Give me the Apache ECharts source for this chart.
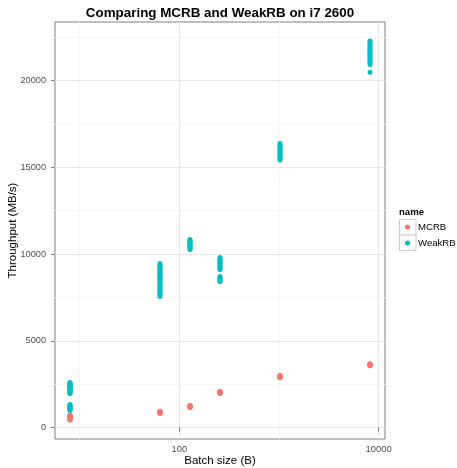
<!DOCTYPE html>
<html>
<head>
<meta charset="utf-8">
<script src="https://cdn.jsdelivr.net/npm/echarts@6/dist/echarts.min.js"></script>
<style>
  html, body { margin: 0; padding: 0; background: #ffffff; }
  #chart { width: 457px; height: 468px; }
</style>
</head>
<body>
<div id="chart"></div>
<script>
// Batch sizes (bytes) that were benchmarked
const batchSizes = [8, 64, 128, 256, 1024, 8192];

// MCRB throughput runs (MB/s), one list per batch size
const mcrbRuns = [
  [702, 688, 671, 655, 638, 612, 575, 527, 486, 458, 444, 432],
  [944, 928, 913, 902, 889, 878, 867, 855, 842, 826, 809],
  [1268, 1252, 1241, 1226, 1213, 1201, 1192, 1181, 1169, 1158],
  [2088, 2073, 2061, 2046, 2028, 2014, 2002, 1987, 1972, 1961],
  [3004, 2991, 2972, 2958, 2947, 2931, 2913, 2902, 2891, 2882],
  [3682, 3663, 3646, 3628, 3611, 3602, 3591, 3579, 3568]
];

// WeakRB throughput runs (MB/s), one list per batch size
const weakrbRuns = [
  [2598, 2571, 2534, 2502, 2468, 2431, 2405, 2377, 2342, 2310, 2286, 2251, 2219,
   2183, 2150, 2118, 2087, 2052, 2019, 1990, 1962,
   1326, 1294, 1257, 1214, 1172, 1135, 1093, 1051, 1012, 981],
  [9458, 9391, 9307, 9236, 9152, 9077, 8998, 8934, 8861, 8788, 8722, 8647, 8583,
   8502, 8418, 8334, 8253, 8168, 8091, 8003, 7918, 7834, 7741, 7655, 7557],
  [10842, 10788, 10733, 10681, 10622, 10568, 10512, 10457, 10401, 10338, 10267],
  [9804, 9738, 9672, 9607, 9541, 9468, 9402, 9331, 9258, 9187, 9112,
   8708, 8641, 8577, 8512, 8455, 8420],
  [16378, 16297, 16221, 16138, 16063, 15982, 15897, 15818, 15741, 15662, 15583, 15502, 15427],
  [22292, 22208, 22121, 22038, 21952, 21868, 21782, 21697, 21612, 21528, 21441,
   21362, 21271, 21188, 21102, 21019, 20934, 20484]
];

// Axis breaks
const xMajorBreaks = [100, 10000];
const xMinorBreaks = [10, 1000];
const yMajorBreaks = [0, 5000, 10000, 15000, 20000];
const yMinorBreaks = [2500, 7500, 12500, 17500, 22500];

const seriesNames = ['MCRB', 'WeakRB'];
const seriesColors = ['#F8766D', '#00BFC4'];

function toPoints(runs) {
  const pts = [];
  runs.forEach(function (vals, i) {
    vals.forEach(function (v) { pts.push([batchSizes[i], v]); });
  });
  return pts;
}

// Scale limits: data range padded by 5% on each side (log space for x)
const X_MIN = 5.66, X_MAX = 11580;
const Y_MIN = -663, Y_MAX = 23385;

const FONT = '"Liberation Sans", Arial, Helvetica, sans-serif';
const plain = function (v) { return String(Math.round(v)); };

const chart = echarts.init(document.getElementById('chart'), null, { renderer: 'canvas' });

chart.setOption({
  animation: false,
  backgroundColor: '#ffffff',
  textStyle: { fontFamily: FONT },
  grid: {
    left: 55, top: 22, width: 330, height: 417,
    show: true, borderColor: '#7f7f7f', borderWidth: 1, backgroundColor: '#ffffff',
    containLabel: false, outerBoundsMode: 'none'
  },
  xAxis: [
    {
      type: 'log', logBase: 10, min: X_MIN, max: X_MAX,
      name: 'Batch size (B)', nameLocation: 'middle', nameGap: 16, nameMoveOverlap: false,
      nameTextStyle: { fontFamily: FONT, fontSize: 11.5, color: '#000000', verticalAlign: 'top' },
      axisLine: { show: false },
      axisTick: { show: true, length: 4, customValues: xMajorBreaks, lineStyle: { color: '#7f7f7f', width: 1 } },
      axisLabel: { customValues: xMajorBreaks, formatter: plain, color: '#4d4d4d', fontSize: 9.4, margin: 6, fontFamily: FONT },
      splitLine: { show: true, lineStyle: { color: '#e6e6e6', width: 1 } },
      z: 2
    },
    {
      type: 'log', logBase: 10, min: X_MIN, max: X_MAX, position: 'bottom',
      axisLine: { show: false },
      axisTick: { show: false, customValues: xMinorBreaks },
      axisLabel: { show: false, customValues: xMinorBreaks },
      splitLine: { show: true, lineStyle: { color: '#f6f6f6', width: 1 } },
      z: 1
    }
  ],
  yAxis: [
    {
      type: 'value', min: Y_MIN, max: Y_MAX,
      name: 'Throughput (MB/s)', nameLocation: 'middle', nameGap: 36, nameRotate: 90, nameMoveOverlap: false,
      nameTextStyle: { fontFamily: FONT, fontSize: 11.5, color: '#000000' },
      axisLine: { show: false },
      axisTick: { show: true, length: 4, customValues: yMajorBreaks, lineStyle: { color: '#7f7f7f', width: 1 } },
      axisLabel: { customValues: yMajorBreaks, formatter: plain, color: '#4d4d4d', fontSize: 9.2, margin: 9, fontFamily: FONT },
      splitLine: { show: true, lineStyle: { color: '#e6e6e6', width: 1 } },
      z: 2
    },
    {
      type: 'value', min: Y_MIN, max: Y_MAX, position: 'left',
      axisLine: { show: false },
      axisTick: { show: false, customValues: yMinorBreaks },
      axisLabel: { show: false, customValues: yMinorBreaks },
      splitLine: { show: true, lineStyle: { color: '#f6f6f6', width: 1 } },
      z: 1
    }
  ],
  legend: {
    orient: 'vertical', left: 405, top: 219, padding: 0, itemGap: 0,
    itemWidth: 5, itemHeight: 5, icon: 'circle', selectedMode: false,
    data: seriesNames,
    textStyle: { fontFamily: FONT, fontSize: 9.6, color: '#000000', lineHeight: 16, padding: [0, 0, 0, 3] }
  },
  graphic: [
    {
      type: 'text', x: 220, y: 13.5, z: 10,
      style: { text: 'Comparing MCRB and WeakRB on i7 2600', font: 'bold 13.4px ' + FONT,
               fill: '#000000', textAlign: 'center', textVerticalAlign: 'middle' }
    },
    {
      type: 'text', x: 399, y: 212, z: 10,
      style: { text: 'name', font: 'bold 9.6px ' + FONT, fill: '#000000', textAlign: 'left', textVerticalAlign: 'middle' }
    },
    {
      type: 'rect', z: 1, shape: { x: 399.5, y: 219.5, width: 16.5, height: 15.5 },
      style: { fill: '#ffffff', stroke: '#cccccc', lineWidth: 1 }
    },
    {
      type: 'rect', z: 1, shape: { x: 399.5, y: 235, width: 16.5, height: 15.5 },
      style: { fill: '#ffffff', stroke: '#cccccc', lineWidth: 1 }
    }
  ],
  series: [
    {
      name: 'WeakRB', type: 'scatter', xAxisIndex: 0, yAxisIndex: 0,
      symbol: 'circle', symbolSize: 5, data: toPoints(weakrbRuns),
      itemStyle: { color: seriesColors[1], opacity: 1 }
    },
    {
      name: 'MCRB', type: 'scatter', xAxisIndex: 0, yAxisIndex: 0,
      symbol: 'circle', symbolSize: 5, data: toPoints(mcrbRuns),
      itemStyle: { color: seriesColors[0], opacity: 1 }
    }
  ]
});
</script>
</body>
</html>
